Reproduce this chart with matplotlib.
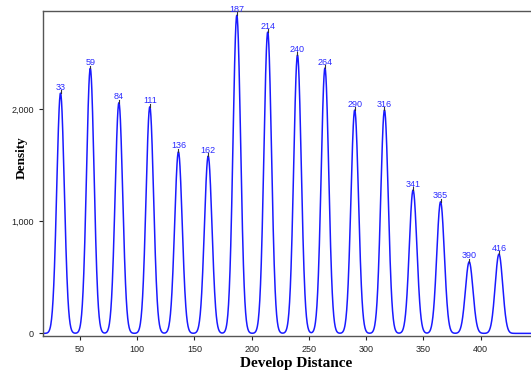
import numpy as np
import matplotlib.pyplot as plt

# peak positions (develop distance) and peak densities
peak_pos = [33, 59, 84, 111, 136, 162, 187, 214, 240, 264, 290, 316, 341, 365, 390, 416]
peak_height = [2145, 2366, 2059, 2023, 1621, 1583, 2840, 2690, 2485, 2369, 1994, 1994, 1280, 1175, 639, 708]
peak_width = 3.3

x = np.linspace(17.7, 444, 2000)
density = np.zeros_like(x)
for p, h in zip(peak_pos, peak_height):
    density += h * np.exp(-0.5 * ((x - p) / peak_width) ** 2)

fig = plt.figure(figsize=(5.31, 3.73), dpi=100)
ax = fig.add_axes([0.081, 0.099, 0.919, 0.8715])
ax.plot(x, density, color='#1a1aff', lw=1.1)

for p, h in zip(peak_pos, peak_height):
    ax.plot([p, p], [h, h + 25], color='#333333', lw=0.8)
    ax.annotate(str(p), (p, h), xytext=(0, 1), textcoords='offset points',
                ha='center', va='bottom', color='#2a2aff', fontsize=6.5,
                family='Liberation Sans', annotation_clip=False)

ax.set_xlim(17.7, 444)
ax.set_ylim(-24, 2878)
ax.set_xticks([50, 100, 150, 200, 250, 300, 350, 400])
ax.set_yticks([0, 1000, 2000])
ax.set_yticklabels(['0', '1,000', '2,000'])
ax.tick_params(labelsize=6.5, length=3, width=0.8, colors='#222222')
for lab in ax.get_xticklabels() + ax.get_yticklabels():
    lab.set_family('Liberation Sans')

ax.spines['right'].set_visible(False)
for s in ['left', 'bottom', 'top']:
    ax.spines[s].set_color('#555555')
    ax.spines[s].set_linewidth(1.0)

ax.set_xlabel('Develop Distance', family='Liberation Serif', weight='bold', fontsize=11, va='center')
ax.xaxis.set_label_coords(0.518, -0.083)
ax.set_ylabel('Density', family='Liberation Serif', weight='bold', fontsize=9.5, va='center')
ax.yaxis.set_label_coords(-0.043, 0.55)

fig.savefig('out.png', dpi=100)
